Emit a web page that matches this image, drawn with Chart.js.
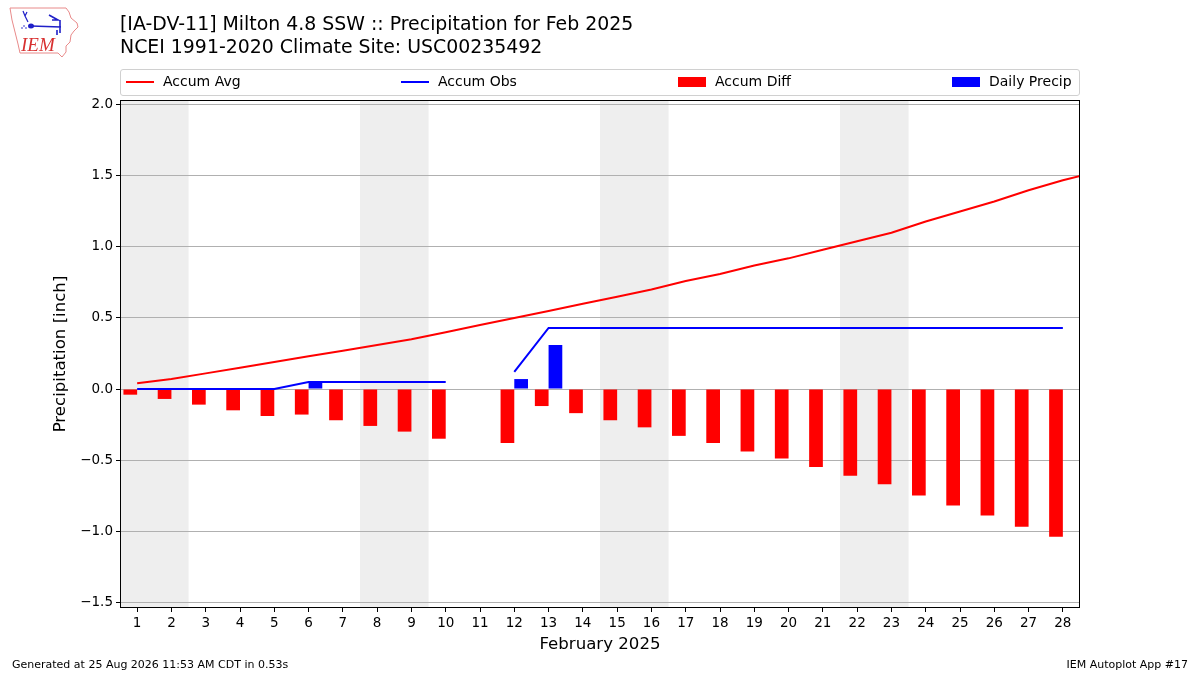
<!DOCTYPE html>
<html lang="en">
<head>
    <meta charset="UTF-8">
    <title>Milton Precipitation Feb 2025</title>
    <script src="https://cdn.jsdelivr.net/npm/chart.js@4.4.1/dist/chart.umd.min.js"></script>
    <style>
        body {
            margin: 0;
            background: white;
            font-family: "DejaVu Sans", sans-serif;
        }
        .page {
            position: relative;
            width: 1200px;
            height: 675px;
            overflow: hidden;
        }
        #chart {
            position: absolute;
            left: 0;
            top: 0;
        }
        .title {
            position: absolute;
            left: 120px;
            font-size: 18.9px;
            color: #000;
            white-space: nowrap;
        }
        .legend {
            position: absolute;
            left: 120px;
            top: 69px;
            width: 958px;
            height: 25px;
            border: 1px solid #d0d0d0;
            border-radius: 3px;
            font-size: 14px;
        }
        .legend .item {
            position: absolute;
            top: 3px;
            white-space: nowrap;
        }
        .legend .swatch {
            display: inline-block;
            width: 28px;
            vertical-align: middle;
            margin-right: 9px;
        }
        .footer {
            position: absolute;
            top: 658px;
            font-size: 11px;
            white-space: nowrap;
        }
        .logo {
            position: absolute;
            left: 0;
            top: 0;
        }
    </style>
</head>
<body>
<div class="page">
    <canvas id="chart" width="1200" height="675"></canvas>

    <svg class="logo" width="82" height="62" viewBox="0 0 82 62">
        <path d="M10,8 L66,8 L69,12 L71,18 L77,23 L78,27 L74,31 L71,35 L70,42 L66,46 L66,52 L62,57 L58,53 L20,53 L18,44 L15,32 L12,20 Z"
              fill="none" stroke="#e88a8a" stroke-width="1"/>
        <path d="M23,11 L25,16 M27,12 L25,16 L28,22" stroke="#2020c8" stroke-width="1.2" fill="none"/>
        <path d="M31,26 L61,27 M49,15 L58,20 L52,20 M60,20 L60,33 M57,30 L57,35" stroke="#2020c8" stroke-width="1.6" fill="none"/>
        <ellipse cx="31" cy="26" rx="3" ry="2.5" fill="#2020c8"/>
        <circle cx="24" cy="26" r="0.8" fill="#2020c8"/>
        <circle cx="22" cy="28" r="0.8" fill="#2020c8"/>
        <circle cx="26" cy="28" r="0.8" fill="#2020c8"/>
        <text x="21" y="51" font-family="Liberation Serif, serif" font-style="italic" font-size="19" fill="#d83030">IEM</text>
    </svg>

    <div class="title" style="top:12px">[IA-DV-11] Milton 4.8 SSW :: Precipitation for Feb 2025</div>
    <div class="title" style="top:35px">NCEI 1991-2020 Climate Site: USC00235492</div>

    <div class="legend">
        <div class="item" style="left:5px"><span class="swatch" style="height:2px;background:#ff0000"></span>Accum Avg</div>
        <div class="item" style="left:280px"><span class="swatch" style="height:2px;background:#0000ff"></span>Accum Obs</div>
        <div class="item" style="left:557px"><span class="swatch" style="height:10px;background:#ff0000"></span>Accum Diff</div>
        <div class="item" style="left:831px"><span class="swatch" style="height:10px;background:#0000ff"></span>Daily Precip</div>
    </div>

    <div class="footer" style="left:12px">Generated at 25 Aug 2026 11:53 AM CDT in 0.53s</div>
    <div class="footer" style="right:12px">IEM Autoplot App #17</div>
</div>

<script>
    // days of February 2025
    const days = [1, 2, 3, 4, 5, 6, 7, 8, 9, 10, 11, 12, 13, 14,
                  15, 16, 17, 18, 19, 20, 21, 22, 23, 24, 25, 26, 27, 28];

    // climatology accumulation (runs one day past the month, clipped)
    const accumAvg = [0.04, 0.07, 0.11, 0.15, 0.19, 0.23, 0.27, 0.31, 0.35, 0.40,
                      0.45, 0.50, 0.55, 0.60, 0.65, 0.70, 0.76, 0.81, 0.87, 0.92,
                      0.98, 1.04, 1.10, 1.18, 1.25, 1.32, 1.40, 1.47, 1.53];

    // observed accumulation, day 11 missing
    const accumObs = [0.00, 0.00, 0.00, 0.00, 0.00, 0.05, 0.05, 0.05, 0.05, 0.05,
                      null, 0.12, 0.43, 0.43, 0.43, 0.43, 0.43, 0.43, 0.43, 0.43,
                      0.43, 0.43, 0.43, 0.43, 0.43, 0.43, 0.43, 0.43];

    const accumDiff = [-0.04, -0.07, -0.11, -0.15, -0.19, -0.18, -0.22, -0.26, -0.30, -0.35,
                       null, -0.38, -0.12, -0.17, -0.22, -0.27, -0.33, -0.38, -0.44, -0.49,
                       -0.55, -0.61, -0.67, -0.75, -0.82, -0.89, -0.97, -1.04];

    const dailyPrecip = [0, 0, 0, 0, 0, 0.05, 0, 0, 0, 0,
                         null, 0.07, 0.31, 0, 0, 0, 0, 0, 0, 0,
                         0, 0, 0, 0, 0, 0, 0, 0];

    // weekend spans (Sat-Sun)
    const weekends = [[0.5, 2.5], [7.5, 9.5], [14.5, 16.5], [21.5, 23.5]];

    const yTicks = [-1.5, -1.0, -0.5, 0.0, 0.5, 1.0, 1.5, 2.0];

    const toPoints = (arr) => arr.map((v, i) => ({ x: i + 1, y: v }));

    const tickFont = { family: 'DejaVu Sans', size: 13.5 };

    // white background + grey weekend bands underneath the grid
    const backdrop = {
        id: 'backdrop',
        beforeDraw(chart) {
            const { ctx, chartArea, scales } = chart;
            ctx.save();
            ctx.fillStyle = '#ffffff';
            ctx.fillRect(0, 0, chart.width, chart.height);
            ctx.fillStyle = '#eeeeee';
            weekends.forEach(([a, b]) => {
                const x0 = scales.x.getPixelForValue(a);
                const x1 = scales.x.getPixelForValue(b);
                ctx.fillRect(x0, chartArea.top, x1 - x0, chartArea.bottom - chartArea.top);
            });
            ctx.restore();
        },
        afterDraw(chart) {
            const { ctx, chartArea } = chart;
            ctx.save();
            ctx.strokeStyle = '#000000';
            ctx.lineWidth = 1;
            ctx.strokeRect(chartArea.left + 0.5, chartArea.top + 0.5,
                chartArea.right - chartArea.left - 1, chartArea.bottom - chartArea.top - 1);
            ctx.restore();
        }
    };

    const ctx = document.getElementById('chart').getContext('2d');
    new Chart(ctx, {
        data: {
            datasets: [
                {
                    type: 'line',
                    label: 'Accum Avg',
                    data: toPoints(accumAvg),
                    borderColor: '#ff0000',
                    borderWidth: 2,
                    pointRadius: 0,
                    tension: 0,
                    order: 0
                },
                {
                    type: 'line',
                    label: 'Accum Obs',
                    data: toPoints(accumObs),
                    borderColor: '#0000ff',
                    borderWidth: 2,
                    pointRadius: 0,
                    tension: 0,
                    spanGaps: false,
                    order: 0
                },
                {
                    type: 'bar',
                    label: 'Accum Diff',
                    data: toPoints(accumDiff),
                    backgroundColor: '#ff0000',
                    barPercentage: 1.0,
                    categoryPercentage: 0.8,
                    order: 1
                },
                {
                    type: 'bar',
                    label: 'Daily Precip',
                    data: toPoints(dailyPrecip),
                    backgroundColor: '#0000ff',
                    barPercentage: 1.0,
                    categoryPercentage: 0.8,
                    order: 1
                }
            ]
        },
        options: {
            responsive: false,
            animation: false,
            layout: { padding: { top: 100, right: 120, left: 0, bottom: 0 } },
            plugins: {
                legend: { display: false },
                tooltip: { enabled: false },
                title: { display: false }
            },
            scales: {
                x: {
                    type: 'linear',
                    min: 0.5,
                    max: 28.5,
                    offset: false,
                    afterFit: (s) => { s.height = 67; },
                    afterBuildTicks: (s) => { s.ticks = days.map(v => ({ value: v })); },
                    grid: {
                        offset: false,
                        drawOnChartArea: false,
                        drawTicks: true,
                        tickLength: 4,
                        tickColor: '#000000'
                    },
                    border: { display: false },
                    ticks: {
                        color: '#000000',
                        font: tickFont,
                        padding: 3,
                        maxRotation: 0,
                        autoSkip: false,
                        callback: (v) => String(v)
                    },
                    title: {
                        display: true,
                        text: 'February 2025',
                        color: '#000000',
                        font: { family: 'DejaVu Sans', size: 16.6 },
                        padding: { top: 0, bottom: 20 }
                    }
                },
                y: {
                    type: 'linear',
                    min: -1.542,
                    max: 2.035,
                    afterFit: (s) => { s.width = 120; },
                    afterBuildTicks: (s) => { s.ticks = yTicks.map(v => ({ value: v })); },
                    grid: {
                        color: '#b0b0b0',
                        lineWidth: 1,
                        drawTicks: true,
                        tickLength: 4,
                        tickColor: '#000000'
                    },
                    border: { display: false },
                    ticks: {
                        color: '#000000',
                        font: tickFont,
                        padding: 3,
                        callback: (v) => v.toFixed(1).replace('-', '\u2212')
                    },
                    title: {
                        display: true,
                        text: 'Precipitation [inch]',
                        color: '#000000',
                        font: { family: 'DejaVu Sans', size: 16.6 },
                        padding: { top: 51, bottom: 0 }
                    }
                }
            }
        },
        plugins: [backdrop]
    });
</script>
</body>
</html>
